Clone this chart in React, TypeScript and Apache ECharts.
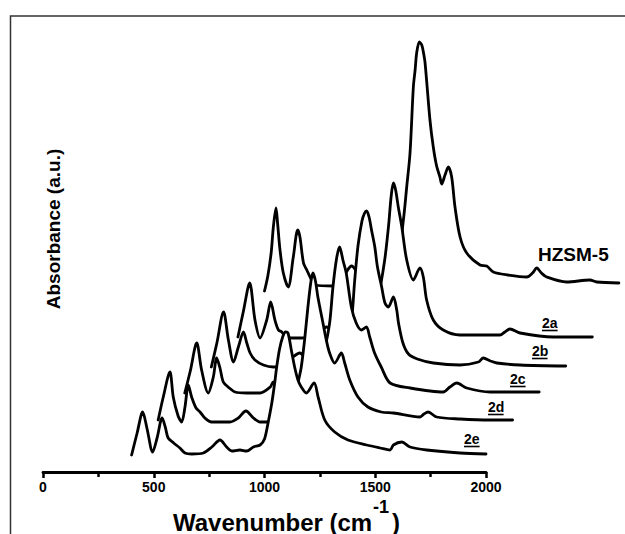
import React, { useEffect, useRef } from "react";
import * as echarts from "echarts";

// Sample order: back (top-right) to front (bottom-left)
const sampleNames = ["HZSM-5", "2a", "2b", "2c", "2d", "2e"];
// Waterfall stacking: shift along wavenumber and vertical offset of each trace
const xShift = [600, 480, 360, 240, 120, 0];
const yOffset = [180, 133, 104, 78, 49, 16];

// Wavenumber axis tick labels
const xTicks = [0, 500, 1000, 1500, 2000];

// IR spectra (wavenumber in cm-1, absorbance in a.u.)
const wnHZSM = [400, 415, 430, 440, 452, 459, 470, 485, 507, 530, 550, 560, 576, 591, 606, 628, 711, 760, 793, 830, 880, 940, 1000, 1027, 1042, 1057, 1072, 1080, 1087, 1099, 1110, 1118, 1125, 1147, 1162, 1177, 1192, 1200, 1215, 1230, 1245, 1260, 1283, 1313, 1373, 1403, 1433, 1500, 1584, 1610, 1629, 1650, 1674, 1764, 1869, 1900, 2000];
const absHZSM = [0, 15, 38, 64, 83, 68, 41, 18, 4, 34, 61, 54, 28, 21, 14, 6, 5, 16, 25, 16, 10, 12, 30, 71, 104, 138, 204, 221, 238, 249, 246, 238, 228, 171, 144, 125, 114, 107, 116, 124, 114, 84, 54, 38, 26, 25, 19, 16, 14, 18, 23, 18, 14, 9, 11, 9, 8];

const wn2a = [400, 425, 453, 477, 500, 530, 548, 567, 583, 598, 620, 643, 688, 760, 800, 840, 900, 960, 1000, 1030, 1062, 1080, 1092, 1102, 1112, 1124, 1140, 1162, 1192, 1222, 1237, 1252, 1282, 1327, 1402, 1583, 1605, 1628, 1674, 1824, 2000];
const abs2a = [1, 27, 55, 18, 0, 18, 36, 18, 8, 6, 0, 0, 0, 4, 11, 4, 2, 7, 17, 37, 77, 112, 142, 155, 148, 131, 111, 78, 58, 70, 61, 38, 18, 8, 3, 3, 6, 9, 5, 1, 1];

const wn2b = [400, 425, 455, 477, 500, 522, 545, 560, 575, 597, 635, 680, 730, 769, 799, 830, 870, 920, 960, 1000, 1020, 1035, 1047, 1062, 1080, 1092, 1101, 1112, 1124, 1138, 1150, 1169, 1184, 1199, 1222, 1237, 1245, 1265, 1290, 1330, 1402, 1523, 1606, 1628, 1660, 1689, 1794, 2000];
const abs2b = [0, 24, 55, 27, 5, 20, 35, 24, 14, 7, 2, 0, 2, 10, 14, 8, 2, 4, 8, 16, 31, 51, 86, 121, 146, 154, 156, 150, 136, 120, 100, 80, 64, 60, 70, 57, 44, 24, 13, 8, 4, 2, 5, 9, 6, 4, 2, 1];

const wn2c = [400, 425, 454, 476, 506, 529, 544, 559, 574, 596, 627, 680, 740, 786, 800, 815, 850, 900, 950, 1000, 1030, 1054, 1069, 1085, 1099, 1114, 1129, 1152, 1174, 1197, 1220, 1235, 1257, 1287, 1327, 1417, 1567, 1597, 1628, 1673, 1778, 2000];
const abs2c = [0, 22, 50, 23, 0, 16, 35, 25, 11, 6, 1, 0, 0, 6, 11, 8, 2, 2, 4, 17, 42, 70, 106, 134, 146, 133, 120, 86, 70, 63, 66, 56, 40, 26, 10, 5, 1, 6, 10, 5, 1, 1];

const wn2d = [400, 423, 453, 468, 490, 506, 521, 536, 551, 571, 589, 611, 641, 724, 762, 796, 830, 860, 900, 950, 1000, 1020, 1034, 1046, 1061, 1076, 1090, 1099, 1110, 1121, 1144, 1159, 1174, 1197, 1227, 1242, 1265, 1302, 1347, 1407, 1462, 1582, 1600, 1619, 1657, 1763, 1898, 2000];
const abs2d = [2, 25, 50, 25, 6, 0, 15, 37, 25, 14, 10, 4, 0, 0, 4, 11, 4, 0, 0, 1, 11, 29, 42, 55, 82, 115, 141, 149, 141, 125, 99, 82, 69, 59, 69, 59, 42, 25, 15, 10, 9, 5, 8, 10, 5, 3, 2, 2];

const wn2e = [400, 425, 450, 470, 495, 515, 538, 552, 565, 590, 618, 641, 671, 724, 762, 799, 829, 852, 889, 919, 950, 980, 1000, 1016, 1033, 1046, 1055, 1068, 1082, 1095, 1106, 1121, 1136, 1151, 1166, 1189, 1224, 1242, 1272, 1317, 1377, 1461, 1522, 1567, 1582, 1620, 1657, 1732, 1883, 2000];
const abs2e = [0, 22, 43, 26, 3, 17, 37, 28, 17, 12, 7, 2, 1, 2, 8, 15, 8, 4, 5, 4, 8, 10, 16, 32, 52, 72, 88, 106, 118, 123, 122, 105, 88, 75, 68, 62, 72, 58, 35, 23, 15, 10, 7, 5, 10, 13, 8, 5, 2, 1];

const spectraWn = [wnHZSM, wn2a, wn2b, wn2c, wn2d, wn2e];
const spectraAbs = [absHZSM, abs2a, abs2b, abs2c, abs2d, abs2e];

const FONT = '"Liberation Sans", Arial, Helvetica, sans-serif';

// Sample label placement (pixels)
const labelPos: [number, number][] = [
  [538, 254],
  [542, 323],
  [532, 351],
  [510, 379],
  [488, 407],
  [464, 439],
];

function buildOption(): echarts.EChartsCoreOption {
  const series = spectraWn.map((wn, k) => ({
    type: "line",
    name: sampleNames[k],
    xAxisIndex: 1,
    yAxisIndex: 1,
    data: wn.map((w, i) => [w + xShift[k], spectraAbs[k][i] + yOffset[k]]),
    showSymbol: false,
    symbol: "none",
    smooth: 0.3,
    silent: true,
    z: 2 + k,
    lineStyle: { color: "#000", width: 2.8, join: "round", cap: "round" },
    // white fill hides the traces that sit behind this one
    areaStyle: { color: "#fff", opacity: 1, origin: "start" },
  }));

  const labelGraphics: any[] = [];
  sampleNames.forEach((name, k) => {
    const [x, y] = labelPos[k];
    const isMain = k === 0;
    const size = isMain ? 19 : 14;
    labelGraphics.push({
      type: "text",
      x,
      y,
      z: 50,
      style: {
        text: name,
        font: `bold ${size}px ${FONT}`,
        fill: "#000",
        align: "left",
        verticalAlign: "middle",
      },
    });
    if (!isMain) {
      labelGraphics.push({
        type: "line",
        z: 50,
        shape: { x1: x, y1: y + 7.5, x2: x + name.length * 7.8, y2: y + 7.5 },
        style: { stroke: "#000", lineWidth: 1.6 },
      });
    }
  });

  return {
    animation: false,
    backgroundColor: "#fff",
    grid: [
      { left: 43, right: 139, top: 21, bottom: 62 },
      { left: 43, width: 575.9, top: 21, bottom: 63 },
    ],
    xAxis: [
      {
        type: "value",
        gridIndex: 0,
        min: xTicks[0],
        max: xTicks[xTicks.length - 1],
        interval: xTicks[1] - xTicks[0],
        z: 20,
        axisLine: { show: true, lineStyle: { color: "#000", width: 2.8 } },
        axisTick: { show: true, length: 6, lineStyle: { color: "#000", width: 2.5 } },
        minorTick: { show: true, splitNumber: 2, length: 5, lineStyle: { color: "#000", width: 2.5 } },
        splitLine: { show: false },
        minorSplitLine: { show: false },
        axisLabel: {
          color: "#000",
          fontWeight: "bold",
          fontSize: 14,
          fontFamily: FONT,
          margin: 8,
          formatter: (v: number) => String(v),
        },
      },
      { type: "value", gridIndex: 1, min: 0, max: 2600, show: false },
    ],
    yAxis: [
      { type: "value", gridIndex: 0, min: 0, max: 1, show: false },
      { type: "value", gridIndex: 1, min: 0, max: 450, show: false },
    ],
    series,
    graphic: [
      {
        type: "rect",
        z: 100,
        shape: { x: 10.5, y: 16, width: 700, height: 600 },
        style: { fill: "none", stroke: "#333", lineWidth: 1.5 },
      },
      {
        type: "text",
        x: 53,
        y: 229,
        rotation: Math.PI / 2,
        z: 50,
        style: {
          text: "Absorbance (a.u.)",
          font: `bold 19px ${FONT}`,
          fill: "#000",
          align: "center",
          verticalAlign: "middle",
        },
      },
      {
        type: "text",
        x: 173,
        y: 522,
        z: 50,
        style: {
          text: "Wavenumber (cm",
          font: `bold 24px ${FONT}`,
          fill: "#000",
          align: "left",
          verticalAlign: "middle",
        },
      },
      {
        type: "text",
        x: 373,
        y: 507,
        z: 50,
        style: {
          text: "-1",
          font: `bold 18px ${FONT}`,
          fill: "#000",
          align: "left",
          verticalAlign: "middle",
        },
      },
      {
        type: "text",
        x: 392,
        y: 522,
        z: 50,
        style: {
          text: ")",
          font: `bold 24px ${FONT}`,
          fill: "#000",
          align: "left",
          verticalAlign: "middle",
        },
      },
      ...labelGraphics,
    ],
  };
}

export default function App() {
  const ref = useRef<HTMLDivElement>(null);
  useEffect(() => {
    if (!ref.current) return;
    const chart = echarts.init(ref.current, null, { renderer: "svg" });
    chart.setOption(buildOption());
    return () => chart.dispose();
  }, []);
  return (
    <div
      ref={ref}
      style={{ position: "absolute", left: 0, top: 0, width: 625, height: 534, background: "#fff" }}
    />
  );
}
